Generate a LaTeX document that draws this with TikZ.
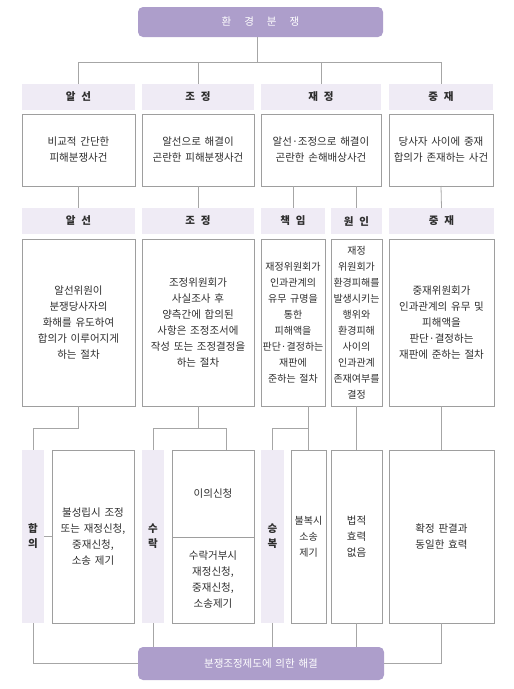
\documentclass[tikz,border=0pt]{standalone}
\usepackage{fontspec}
\setmainfont{Noto Sans CJK KR}[WordSpace=1.6]
\definecolor{purp}{HTML}{AD9ECB}
\definecolor{lav}{HTML}{EFEBF5}
\definecolor{bgray}{HTML}{9E9E9E}
\definecolor{lgray}{HTML}{A6A6A6}
\definecolor{txt}{HTML}{2E2E2E}
\newcommand\mybx[7]{\node[#2, anchor=north west, minimum width={(#5-#3)*1pt}, minimum height={(#6-#4)*1pt}] (#1) at (#3,#4) {#7};}
\newcommand\gp{\hspace{6pt}}
\newcommand\tgp{\hspace{13pt}}
\begin{document}
\begin{tikzpicture}[x=1pt,y=-1pt,
  every node/.style={inner sep=0pt, outer sep=0pt, align=center, text=txt, font=\fontsize{10.5}{16}\selectfont},
  pbox/.style={fill=purp, rounded corners=5pt, text=white, font=\fontsize{10.5}{14}\selectfont},
  hdr/.style={fill=lav, font=\fontsize{10.5}{14}\selectfont\bfseries},
  vcol/.style={fill=lav, font=\fontsize{10.5}{15}\selectfont\bfseries},
  bbox/.style={draw=bgray, line width=0.8pt, fill=white},
  nbox/.style={bbox, font=\fontsize{10}{16}\selectfont},
  conn/.style={draw=lgray, line width=0.8pt}]
\useasboundingbox (0,0) rectangle (514,689);

% top
\mybx{top}{pbox}{138}{7}{383}{37}{환\tgp 경\tgp 분\tgp 쟁}
% row 1 headers
\mybx{h1}{hdr}{22}{84}{135}{110}{알\gp 선}
\mybx{h2}{hdr}{142}{84}{254}{110}{조\gp 정}
\mybx{h3}{hdr}{261}{84}{381}{110}{재\gp 정}
\mybx{h4}{hdr}{389}{84}{493}{110}{중\gp 재}
% row 1 boxes
\mybx{b1}{bbox}{22}{114}{135}{186}{비교적 간단한\\피해분쟁사건}
\mybx{b2}{bbox}{142}{114}{254}{186}{알선으로 해결이\\곤란한 피해분쟁사건}
\mybx{b3}{bbox}{261}{114}{381}{186}{알선·조정으로 해결이\\곤란한 손해배상사건}
\mybx{b4}{bbox}{389}{114}{493}{186}{당사자 사이에 중재\\합의가 존재하는 사건}
% row 2 headers
\mybx{a2h}{hdr}{22}{208}{135}{234}{알\gp 선}
\mybx{j2h}{hdr}{142}{208}{254}{234}{조\gp 정}
\mybx{c2h}{hdr}{261}{208}{325}{234}{책\gp 임}
\mybx{w2h}{hdr}{331}{208}{382}{234}{원\gp 인}
\mybx{g2h}{hdr}{389}{208}{494}{234}{중\gp 재}
% row 2 boxes
\mybx{a2}{bbox}{22}{239}{135}{406}{알선위원이\\분쟁당사자의\\화해를 유도하여\\합의가 이루어지게\\하는 절차}
\mybx{j2}{bbox}{142}{239}{254}{406}{조정위원회가\\사실조사 후\\양측간에 합의된\\사항은 조정조서에\\작성 또는 조정결정을\\하는 절차}
\mybx{c2}{nbox}{261}{239}{325}{406}{재정위원회가\\인과관계의\\유무 규명을\\통한\\피해액을\\판단·결정하는\\재판에\\준하는 절차}
\mybx{w2}{nbox}{331}{239}{382}{406}{재정\\위원회가\\환경피해를\\발생시키는\\행위와\\환경피해\\사이의\\인과관계\\존재여부를\\결정}
\mybx{g2}{bbox}{389}{239}{494}{406}{중재위원회가\\인과관계의 유무 및\\피해액을\\판단·결정하는\\재판에 준하는 절차}
% row 3
\mybx{hab}{vcol}{22}{450}{44}{623}{합\\의}
\mybx{bul}{bbox}{52}{450}{134}{623}{불성립시 조정\\또는 재정신청,\\중재신청,\\소송 제기}
\mybx{suk}{vcol}{142}{450}{164}{623}{수\\락}
\mybx{yi}{bbox}{172}{450}{254}{537}{이의신청}
\mybx{sg}{bbox}{172}{537}{254}{623}{수락거부시\\재정신청,\\중재신청,\\소송제기}
\mybx{sb}{vcol}{261}{450}{284}{623}{승\\복}
\mybx{bb}{nbox}{291}{450}{326}{623}{불복시\\소송\\제기}
\mybx{bj}{bbox}{331}{450}{382}{623}{법적\\효력\\없음}
\mybx{hj}{bbox}{389}{450}{494}{623}{확정 판결과\\동일한 효력}
% bottom
\mybx{res}{pbox}{138}{647}{384}{680}{분쟁조정제도에 의한 해결}

% connectors
\coordinate (j0) at (257,62);
\coordinate (y428) at (0,428);
\coordinate (k2r) at (226,428);
\draw[conn] (j0 |- top.south) -- (j0);
\draw[conn] (h1.north) -- (h1.north |- j0) -- (h4.north |- j0) -- (h4.north);
\draw[conn] (h2.north) -- (h2.north |- j0);
\draw[conn] (h3.north) -- (h3.north |- j0);
\draw[conn] (b1.south) -- (a2h.north);
\draw[conn] (b2.south) -- (j2h.north);
\draw[conn] (b3.south -| c2h.north) -- (c2h.north);
\draw[conn] (b3.south -| w2h.north) -- (w2h.north);
\draw[conn] (b4.south) -- (g2h.north);
\draw[conn] (a2.south) -- (a2.south |- y428) -| (hab.north);
\draw[conn] (j2.south) -- (j2.south |- y428);
\draw[conn] (suk.north) |- (k2r) -- (k2r |- yi.north);
\draw[conn] (c2.south -| bb.north) -- (bb.north);
\draw[conn] (sb.north) |- (bb.north |- y428);
\draw[conn] (w2.south) -- (bj.north);
\draw[conn] (g2.south) -- (hj.north);
\draw[conn] (hab.east) -- (bul.west);
\draw[conn] (hab.south) |- (res.west);
\draw[conn] (suk.south) -- (suk.south |- res.north);
\draw[conn] (sb.south) -- (sb.south |- res.north);
\draw[conn] (bj.south) -- (bj.south |- res.north);
\draw[conn] (hj.south) |- (res.east);
\end{tikzpicture}
\end{document}
